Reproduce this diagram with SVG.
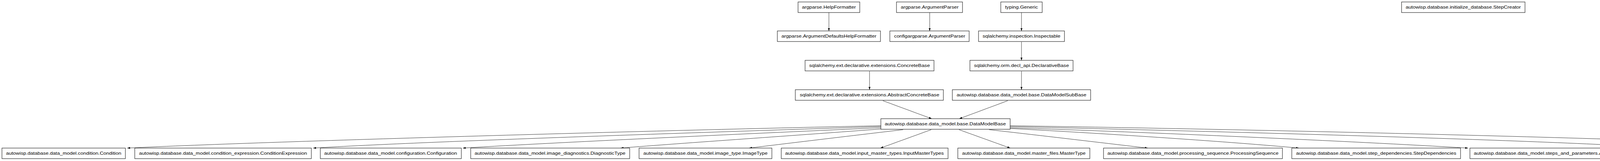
<svg xmlns="http://www.w3.org/2000/svg" width="5442" height="411" viewBox="0 0 5442 411">
<style>
rect{fill:#fff;stroke:#000;stroke-width:1}
text{font-family:"Liberation Sans",Arial,sans-serif;font-size:11px;text-anchor:middle;fill:#000}
.e{fill:none;stroke:#000;stroke-width:0.8;marker-end:url(#a)}
</style>
<defs><marker id="a" viewBox="0 0 10 10" refX="10" refY="5" markerWidth="7" markerHeight="7" orient="auto" markerUnits="userSpaceOnUse"><path d="M0,1.5L10,5L0,8.5z" fill="#000"/></marker></defs>
<rect x="0" y="0" width="5442" height="411" style="fill:#fff;stroke:none"/>
<g id="connectors">
<path class="e" d="M2255,321 C1800,330 700,360 326,378"/>
<path class="e" d="M2255,323 C1900,335 1100,360 802,378"/>
<path class="e" d="M2255,326 C1950,340 1450,362 1185,378"/>
<path class="e" d="M2258,329 C2050,345 1750,365 1589,378"/>
<path class="e" d="M2312,331 C2150,350 2000,368 1918,378"/>
<path class="e" d="M2384,331 L2254,378"/>
<path class="e" d="M2455,331 L2586,378"/>
<path class="e" d="M2532,331 C2700,350 2850,368 2938,378"/>
<path class="e" d="M2586,328 C2850,342 3150,362 3325,378"/>
<path class="e" d="M2586,326 C2950,338 3450,360 3758,378"/>
<path class="e" d="M2586,323 C3000,333 3900,355 4270,378"/>
<path class="e" d="M2586,321 C3200,330 4300,355 4697,378"/>
<path class="e" d="M2122,32 L2122,79"/>
<path class="e" d="M2380,32 L2380,79"/>
<path class="e" d="M2615,32 L2615,79"/>
<path class="e" d="M2615,107 L2615,154"/>
<path class="e" d="M2615,182 L2615,229"/>
<path class="e" d="M2226,182 L2226,229"/>
<path class="e" d="M2260,257 L2385,303"/>
<path class="e" d="M2580,257 L2456,303"/>
<path class="e" d="M5074,32 L5074,79"/>
<path class="e" d="M5095,107 L5179,154"/>
<path class="e" d="M5310,107 L5227,154"/>
<path class="e" d="M5204,182 L5204,229"/>
<path class="e" d="M5204,257 L5204,303"/>
<path class="e" d="M5204,331 L5204,378"/>
</g>
<g id="n1"><rect x="5" y="378" width="316" height="27"/><text x="163" y="395" textLength="295" lengthAdjust="spacingAndGlyphs">autowisp.database.data_model.condition.Condition</text></g>
<g id="n2"><rect x="345" y="378" width="452" height="27"/><text x="571" y="395" textLength="430" lengthAdjust="spacingAndGlyphs">autowisp.database.data_model.condition_expression.ConditionExpression</text></g>
<g id="n3"><rect x="820" y="378" width="361" height="27"/><text x="1000" y="395" textLength="340" lengthAdjust="spacingAndGlyphs">autowisp.database.data_model.configuration.Configuration</text></g>
<g id="n4"><rect x="1205" y="378" width="407" height="27"/><text x="1408" y="395" textLength="386" lengthAdjust="spacingAndGlyphs">autowisp.database.data_model.image_diagnostics.DiagnosticType</text></g>
<g id="n5"><rect x="1636" y="378" width="340" height="27"/><text x="1806" y="395" textLength="318" lengthAdjust="spacingAndGlyphs">autowisp.database.data_model.image_type.ImageType</text></g>
<g id="n6"><rect x="2000" y="378" width="427" height="27"/><text x="2213" y="395" textLength="406" lengthAdjust="spacingAndGlyphs">autowisp.database.data_model.input_master_types.InputMasterTypes</text></g>
<g id="n7"><rect x="2452" y="378" width="338" height="27"/><text x="2621" y="395" textLength="316" lengthAdjust="spacingAndGlyphs">autowisp.database.data_model.master_files.MasterType</text></g>
<g id="n8"><rect x="2825" y="378" width="458" height="27"/><text x="3054" y="395" textLength="438" lengthAdjust="spacingAndGlyphs">autowisp.database.data_model.processing_sequence.ProcessingSequence</text></g>
<g id="n9"><rect x="3307" y="378" width="432" height="27"/><text x="3523" y="395" textLength="410" lengthAdjust="spacingAndGlyphs">autowisp.database.data_model.step_dependencies.StepDependencies</text></g>
<g id="n10"><rect x="3763" y="378" width="489" height="27"/><text x="4007" y="395" textLength="468" lengthAdjust="spacingAndGlyphs">autowisp.database.data_model.steps_and_parameters.AlternateParameterName</text></g>
<g id="n11"><rect x="4276" y="378" width="401" height="27"/><text x="4476" y="395" textLength="380" lengthAdjust="spacingAndGlyphs">autowisp.database.data_model.steps_and_parameters.Parameter</text></g>
<g id="n12"><rect x="4701" y="378" width="369" height="27"/><text x="4885" y="395" textLength="348" lengthAdjust="spacingAndGlyphs">autowisp.database.data_model.steps_and_parameters.Step</text></g>
<g id="n13"><rect x="5094" y="378" width="218" height="27"/><text x="5203" y="395" textLength="198" lengthAdjust="spacingAndGlyphs">sqlalchemy.sql.schema.MetaData</text></g>
<g id="n14"><rect x="2255" y="303" width="331" height="27"/><text x="2420" y="320" textLength="310" lengthAdjust="spacingAndGlyphs">autowisp.database.data_model.base.DataModelBase</text></g>
<g id="n15"><rect x="2043" y="5" width="158" height="27"/><text x="2122" y="22" textLength="138" lengthAdjust="spacingAndGlyphs">argparse.HelpFormatter</text></g>
<g id="n16"><rect x="2295" y="5" width="169" height="27"/><text x="2380" y="22" textLength="148" lengthAdjust="spacingAndGlyphs">argparse.ArgumentParser</text></g>
<g id="n17"><rect x="2562" y="5" width="106" height="27"/><text x="2615" y="22" textLength="84" lengthAdjust="spacingAndGlyphs">typing.Generic</text></g>
<g id="n18"><rect x="1990" y="79" width="264" height="27"/><text x="2122" y="96" textLength="243" lengthAdjust="spacingAndGlyphs">argparse.ArgumentDefaultsHelpFormatter</text></g>
<g id="n19"><rect x="2278" y="79" width="203" height="27"/><text x="2380" y="96" textLength="182" lengthAdjust="spacingAndGlyphs">configargparse.ArgumentParser</text></g>
<g id="n20"><rect x="2505" y="79" width="220" height="27"/><text x="2615" y="96" textLength="199" lengthAdjust="spacingAndGlyphs">sqlalchemy.inspection.Inspectable</text></g>
<g id="n21"><rect x="2061" y="154" width="330" height="27"/><text x="2226" y="171" textLength="309" lengthAdjust="spacingAndGlyphs">sqlalchemy.ext.declarative.extensions.ConcreteBase</text></g>
<g id="n22"><rect x="2483" y="154" width="264" height="27"/><text x="2615" y="171" textLength="243" lengthAdjust="spacingAndGlyphs">sqlalchemy.orm.decl_api.DeclarativeBase</text></g>
<g id="n23"><rect x="2036" y="229" width="379" height="27"/><text x="2226" y="246" textLength="357" lengthAdjust="spacingAndGlyphs">sqlalchemy.ext.declarative.extensions.AbstractConcreteBase</text></g>
<g id="n24"><rect x="2438" y="229" width="354" height="27"/><text x="2615" y="246" textLength="332" lengthAdjust="spacingAndGlyphs">autowisp.database.data_model.base.DataModelSubBase</text></g>
<g id="n25"><rect x="3588" y="5" width="316" height="27"/><text x="3746" y="22" textLength="295" lengthAdjust="spacingAndGlyphs">autowisp.database.initialize_database.StepCreator</text></g>
<g id="n26"><rect x="4952" y="5" width="243" height="27"/><text x="5074" y="22" textLength="222" lengthAdjust="spacingAndGlyphs">sqlalchemy.event.registry.EventTarget</text></g>
<g id="n27"><rect x="4943" y="79" width="262" height="27"/><text x="5074" y="96" textLength="241" lengthAdjust="spacingAndGlyphs">sqlalchemy.sql.base.SchemaEventTarget</text></g>
<g id="n28"><rect x="5229" y="79" width="207" height="27"/><text x="5332" y="96" textLength="186" lengthAdjust="spacingAndGlyphs">sqlalchemy.sql.visitors.Visitable</text></g>
<g id="n29"><rect x="5083" y="154" width="241" height="27"/><text x="5204" y="171" textLength="220" lengthAdjust="spacingAndGlyphs">sqlalchemy.sql.base.SchemaVisitable</text></g>
<g id="n30"><rect x="5086" y="229" width="236" height="27"/><text x="5204" y="246" textLength="215" lengthAdjust="spacingAndGlyphs">sqlalchemy.sql.schema.SchemaItem</text></g>
<g id="n31"><rect x="5076" y="303" width="254" height="27"/><text x="5203" y="320" textLength="233" lengthAdjust="spacingAndGlyphs">sqlalchemy.sql.schema.HasSchemaAttr</text></g>
</svg>
